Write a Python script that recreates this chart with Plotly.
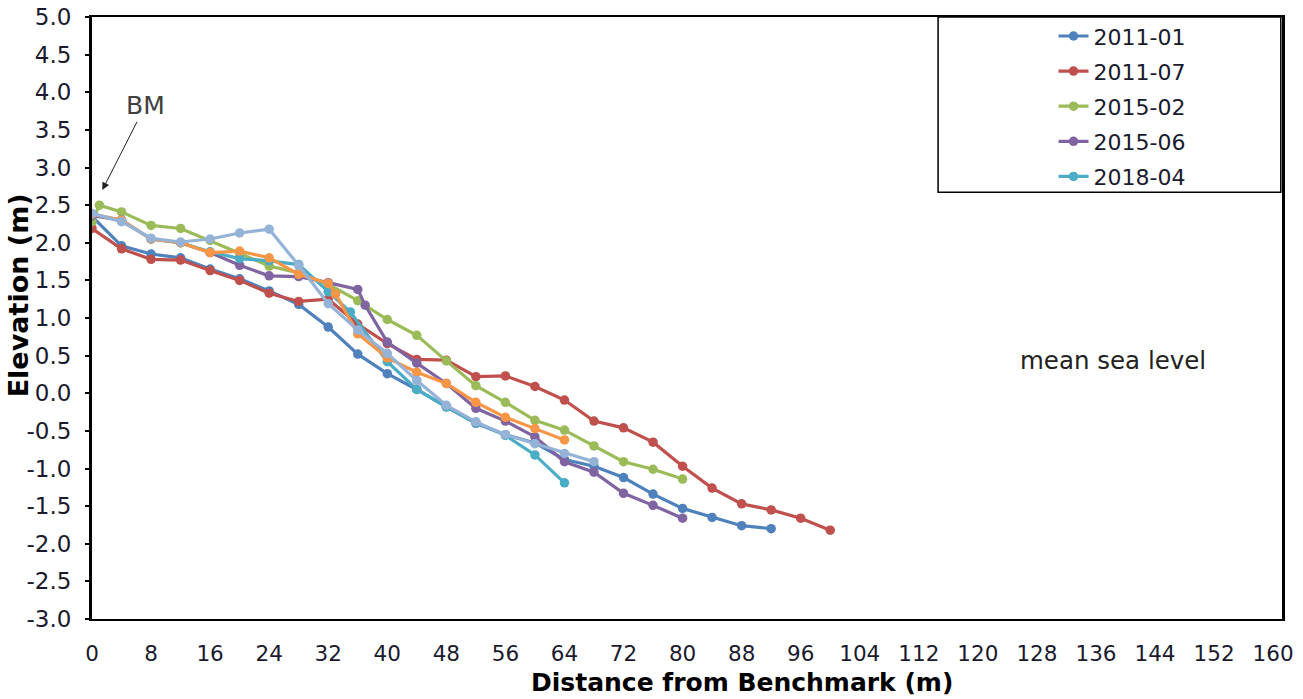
import plotly.graph_objects as go

# ---- data ----
names = ["2011-01", "2011-07", "2015-02", "2015-06", "2018-04", "Series 6", "Series 7"]
colors = ["#4F81BD", "#C0504D", "#9BBB59", "#8064A2", "#4BACC6", "#F79646", "#95B3D7"]
in_legend = [True, True, True, True, True, False, False]

x_2011_01 = [0, 4, 8, 12, 16, 20, 24, 28, 32, 36, 40, 44, 48, 52, 56, 60, 64, 68, 72, 76, 80, 84, 88, 92]
y_2011_01 = [2.35, 1.96, 1.85, 1.80, 1.65, 1.52, 1.36, 1.18, 0.88, 0.52, 0.26, 0.05, -0.18, -0.40, -0.55, -0.66,
             -0.88, -0.97, -1.12, -1.34, -1.53, -1.65, -1.76, -1.80]

x_2011_07 = [0, 4, 8, 12, 16, 20, 24, 28, 32, 36, 40, 44, 48, 52, 56, 60, 64, 68, 72, 76, 80, 84, 88, 92, 96, 100]
y_2011_07 = [2.19, 1.92, 1.78, 1.77, 1.63, 1.50, 1.33, 1.22, 1.25, 0.92, 0.66, 0.45, 0.44, 0.22, 0.23, 0.09,
             -0.09, -0.37, -0.46, -0.65, -0.97, -1.26, -1.47, -1.55, -1.66, -1.82]

x_2015_02 = [0, 1, 4, 8, 12, 16, 20, 24, 28, 32, 36, 40, 44, 48, 52, 56, 60, 64, 68, 72, 76, 80]
y_2015_02 = [2.28, 2.50, 2.41, 2.23, 2.19, 2.03, 1.86, 1.69, 1.60, 1.45, 1.23, 0.98, 0.77, 0.43, 0.10, -0.12,
             -0.36, -0.49, -0.70, -0.91, -1.01, -1.14]

x_2015_06 = [0, 4, 8, 12, 16, 20, 24, 28, 32, 36, 37, 40, 44, 48, 52, 56, 60, 64, 68, 72, 76, 80]
y_2015_06 = [2.36, 2.30, 2.05, 2.00, 1.87, 1.70, 1.56, 1.55, 1.47, 1.38, 1.17, 0.68, 0.40, 0.13, -0.20, -0.37,
             -0.58, -0.91, -1.05, -1.33, -1.49, -1.66]

x_2018_04 = [0, 4, 8, 12, 16, 20, 24, 28, 32, 35, 40, 44, 48, 52, 56, 60, 64]
y_2018_04 = [2.38, 2.30, 2.05, 2.00, 1.88, 1.79, 1.76, 1.71, 1.35, 1.08, 0.42, 0.05, -0.18, -0.39, -0.56, -0.82, -1.19]

x_s6 = [0, 4, 8, 12, 16, 20, 24, 28, 32, 33, 36, 40, 44, 48, 52, 56, 60, 64]
y_s6 = [2.38, 2.30, 2.05, 2.00, 1.87, 1.89, 1.80, 1.58, 1.46, 1.32, 0.79, 0.47, 0.28, 0.13, -0.12, -0.32, -0.47, -0.62]

x_s7 = [0, 4, 8, 12, 16, 20, 24, 28, 32, 36, 40, 44, 48, 52, 56, 60, 64, 68]
y_s7 = [2.39, 2.28, 2.06, 2.01, 2.05, 2.13, 2.18, 1.70, 1.19, 0.84, 0.53, 0.17, -0.16, -0.38, -0.55, -0.67, -0.80, -0.91]

xs = [x_2011_01, x_2011_07, x_2015_02, x_2015_06, x_2018_04, x_s6, x_s7]
ys = [y_2011_01, y_2011_07, y_2015_02, y_2015_06, y_2018_04, y_s6, y_s7]

x_ticks = list(range(0, 161, 8))
y_ticks = [v / 2 for v in range(-6, 11)]
y_ticktext = [f"{v:.1f}" for v in y_ticks]
x_range = [0, 161.2]
y_range = [-3, 5]

FONT = "DejaVu Sans"
TXT = "#1a1a2e"
zero_pos = (0 - y_range[0]) / (y_range[1] - y_range[0])

fig = go.Figure()
for i, (n, c) in enumerate(zip(names, colors)):
    fig.add_trace(go.Scatter(
        x=xs[i], y=ys[i], name=n, mode="lines+markers",
        line=dict(color=c, width=3.2), marker=dict(color=c, size=9.5),
        showlegend=in_legend[i], legendgroup=n,
    ))

fig.update_layout(
    width=1303, height=699,
    margin=dict(l=92, r=21, t=17, b=80),
    plot_bgcolor="white", paper_bgcolor="white",
    font=dict(family=FONT, size=21, color=TXT),
    xaxis=dict(range=x_range, tickvals=x_ticks, ticks="", showline=True, mirror=True,
               linecolor="black", linewidth=2, showgrid=False, zeroline=False, automargin=False,
               ticklabelstandoff=14, ticklabeloverflow="allow", tickfont=dict(size=21.5, color=TXT)),
    xaxis2=dict(overlaying="x", anchor="free", position=zero_pos, automargin=False,
                range=x_range, showline=True, linecolor="black", linewidth=2,
                ticks="outside", ticklen=9, tickwidth=2, tickcolor="black", dtick=8, tick0=0,
                minor=dict(ticks="outside", ticklen=5, tickwidth=1.5, tickcolor="black", dtick=4),
                showticklabels=False, showgrid=False, zeroline=False),
    xaxis3=dict(overlaying="x", anchor="free", position=zero_pos, automargin=False,
                range=x_range, showline=False,
                ticks="inside", ticklen=6, tickwidth=2, tickcolor="black", dtick=8, tick0=0,
                minor=dict(ticks="inside", ticklen=4, tickwidth=1.5, tickcolor="black", dtick=4),
                showticklabels=False, showgrid=False, zeroline=False),
    yaxis=dict(range=y_range, tickvals=y_ticks, ticktext=y_ticktext, ticks="outside", ticklen=4,
               tickwidth=2, tickcolor="black", showline=True, mirror=True, linecolor="black",
               linewidth=3, showgrid=False, zeroline=False, automargin=False,
               ticklabelstandoff=9, ticklabeloverflow="allow", tickfont=dict(size=23, color=TXT)),
    yaxis2=dict(overlaying="y", anchor="x", range=y_range, tickvals=y_ticks, ticks="inside", ticklen=4,
                tickwidth=2, tickcolor="black", showticklabels=False, showgrid=False, zeroline=False,
                showline=False, automargin=False),
    legend=dict(x=0.808, y=1.003, xanchor="left", yanchor="top", bgcolor="rgba(0,0,0,0)",
                borderwidth=0, font=dict(size=22, color=TXT), tracegroupgap=3.5,
                traceorder="grouped"),
    showlegend=True,
)

# legend frame
fig.add_shape(type="rect", xref="paper", yref="paper", x0=0.711, x1=0.999, y0=0.709, y1=1.0,
              line=dict(color="black", width=1.5), fillcolor="rgba(0,0,0,0)")

fig.add_annotation(x=1.4, y=2.70, ax=7.2, ay=3.82, axref="x", ayref="y", xref="x", yref="y",
                   text="BM", showarrow=True, arrowhead=2, arrowsize=1.5, arrowwidth=1,
                   arrowcolor="#222", font=dict(size=25, color="#404040"))
fig.add_annotation(x=138.3, y=0.44, xref="x", yref="y", text="mean sea level", showarrow=False,
                   font=dict(size=24.5, color="#222"))
fig.add_annotation(x=-0.062, y=0.538, xref="paper", yref="paper", text="<b>Elevation (m)</b>",
                   textangle=-90, showarrow=False, xanchor="center", yanchor="middle",
                   font=dict(size=27, color="black"))
fig.add_annotation(x=0.546, y=-0.106, xref="paper", yref="paper", text="<b>Distance from Benchmark (m)</b>",
                   showarrow=False, xanchor="center", yanchor="middle", font=dict(size=25, color="black"))

# remove the default 8px body margin so the figure sits at the page origin
fig.write_html("out.html", config={"displayModeBar": False},
               post_script="document.body.style.margin='0px';")
